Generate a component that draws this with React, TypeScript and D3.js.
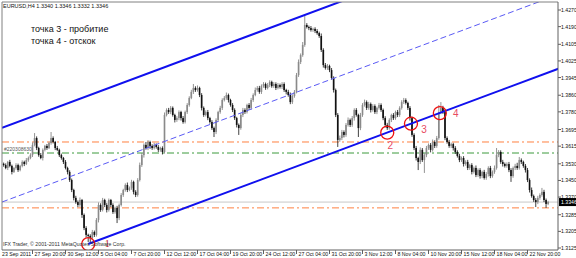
import React from 'react';
import * as d3 from 'd3';

// ---------- data ----------
const symbolTitle = 'EURUSD,H4  1.3340 1.3346 1.3332 1.3346';
const noteLines = ['точка 3 - пробитие', 'точка 4 - отскок'];
const copyright = 'IFX Trader, © 2001-2011 MetaQuotes Software Corp.';
const objectLabel = '#220308630';

const firstBar = -14;
const firstOpen = 13530; // pips (price * 10000)
const closes = [
  13524,13510,13539,13520,13491,13510,13524,13500,13520,13539,13529,13548,13558,13572,
  13621,13654,13606,13572,13558,13597,13616,13606,13630,13654,
  13635,13606,13597,13572,13558,13539,13510,13491,13452,13404,
  13366,13346,13332,13356,13284,13221,13188,13183,13173,13202,
  13188,13260,13332,13308,13356,13332,13308,13356,13332,13298,
  13318,13269,13332,13380,13404,13428,13404,13414,13443,13395,
  13380,13452,13524,13572,13621,13606,13635,13616,13606,13621,
  13611,13597,13606,13587,13765,13789,13779,13799,13765,13741,
  13750,13779,13750,13731,13779,13813,13847,13876,13895,13885,
  13895,13861,13799,13765,13779,13750,13731,13702,13683,13741,
  13779,13799,13837,13847,13861,13837,13813,13789,13750,13717,
  13702,13765,13789,13779,13813,13799,13837,13861,13885,13895,
  13876,13904,13914,13895,13909,13924,13904,13914,13895,13909,
  13900,13914,13885,13876,13861,13827,13856,13876,13957,14020,
  14053,14102,14198,14188,14183,14174,14179,14169,14159,14145,
  14078,14005,13991,14001,13981,13943,13885,13765,13645,13654,
  13683,13669,13717,13741,13717,13750,13789,13765,13702,13765,
  13813,13827,13799,13818,13789,13808,13779,13799,13813,13789,
  13750,13717,13702,13741,13765,13750,13779,13765,13799,13827,
  13837,13823,13799,13750,13669,13606,13558,13539,13597,13548,
  13572,13606,13621,13597,13635,13616,13654,13779,13799,13779,
  13654,13635,13616,13625,13606,13587,13568,13548,13558,13529,
  13539,13510,13524,13491,13510,13476,13500,13471,13491,13462,
  13481,13510,13471,13491,13510,13572,13587,13539,13529,13520,
  13529,13500,13471,13510,13520,13510,13548,13539,13520,13500,
  13452,13404,13375,13356,13346,13366,13380,13395,13356,13337,13346,
];
const upWick = [
  6,8,5,10,6,4,9,7,5,8,6,10,7,9,
  12,24,8,6,10,7,5,9,6,29,
  8,5,10,6,7,5,9,6,8,7,
  6,10,8,12,5,7,9,6,8,10,
  7,9,12,8,10,6,9,7,5,8,
  6,10,7,9,6,8,12,7,10,6,
  8,9,12,10,7,14,9,6,8,10,
  7,9,6,8,12,8,10,9,7,6,
  9,8,6,10,7,9,8,10,19,8,
  12,6,9,7,8,10,6,9,7,8,
  6,10,8,9,12,7,6,9,8,6,
  7,9,10,8,6,9,10,8,12,9,
  10,8,9,7,10,8,6,9,8,10,
  7,9,8,6,10,12,8,9,10,12,
  8,14,48,9,7,10,6,8,9,7,
  12,8,10,9,6,10,8,7,9,12,
  10,8,9,12,7,10,8,9,6,10,
  9,12,8,10,7,9,8,6,10,8,
  7,9,10,8,6,9,7,10,8,9,
  10,8,6,9,7,8,10,6,12,9,
  8,10,7,9,12,8,10,34,28,10,
  9,8,10,7,6,9,8,10,7,9,
  8,10,6,9,7,12,8,9,6,10,
  9,8,10,7,12,34,9,8,10,7,
  8,10,9,7,10,15,15,8,6,9,
  10,8,12,7,9,10,8,19,10,7,6,
];
const dnWick = [
  8,6,10,7,12,5,8,9,6,7,10,5,8,6,
  9,7,10,8,6,12,7,9,5,8,
  7,10,6,9,8,10,7,12,9,10,
  12,8,10,9,14,10,12,29,23,9,
  10,8,12,9,7,10,12,8,10,9,
  8,24,10,7,9,8,10,6,9,12,
  10,8,7,9,12,8,10,14,9,7,
  8,10,9,12,8,7,9,10,8,12,
  9,10,12,8,7,9,8,6,10,9,
  8,10,12,9,7,10,8,9,24,10,
  9,8,10,7,9,12,8,10,9,12,
  33,8,10,9,7,10,8,9,6,8,
  9,10,8,9,7,10,8,9,10,7,
  8,10,9,12,8,10,9,8,7,9,
  10,8,9,7,10,8,9,10,8,9,
  10,12,8,9,10,8,12,10,34,9,
  10,12,9,8,10,9,12,8,43,10,
  9,8,10,9,12,8,9,10,8,9,
  10,12,9,8,10,9,8,10,9,8,
  9,8,10,12,9,10,12,39,10,9,
  62,10,9,12,8,10,9,8,10,9,
  10,8,9,10,12,9,8,10,9,12,
  8,10,9,12,8,10,9,12,10,8,
  9,12,10,8,9,8,10,9,12,8,
  9,10,28,8,10,9,8,10,9,12,
  10,12,8,9,24,10,9,8,10,19,6,
];

const timeLabels = [
  '23 Sep 2011', '27 Sep 20:00', '30 Sep 12:00', '5 Oct 04:00', '7 Oct 20:00',
  '12 Oct 12:00', '17 Oct 04:00', '19 Oct 20:00', '24 Oct 12:00', '27 Oct 04:00',
  '31 Oct 20:00', '3 Nov 12:00', '8 Nov 04:00', '10 Nov 20:00', '15 Nov 12:00',
  '18 Nov 04:00', '22 Nov 20:00',
];
const timeLabelBars = [-14, 0, 16, 32, 48, 64, 80, 96, 112, 128, 144, 160, 176, 192, 208, 224, 240];

const priceTicks = [
  1.4270, 1.4190, 1.4105, 1.4025, 1.3945, 1.3860, 1.3780, 1.3695,
  1.3615, 1.3530, 1.3450, 1.3370, 1.3285, 1.3205, 1.3125,
];
const lastPrice = 1.3346;

// horizontal levels
const orangeLevels = [1.3635, 1.3318];
const greenLevels = [1.3582];

// channel: base line through two points, parallel through the peak
const channelBaseBars = [27, 250];
const channelBasePrices = [1.3144, 1.3969];
const channelPeakBar = 132;
const channelPeakPrice = 1.4246;

// marked points
const markBars = [27, 172, 183.5, 197.5];
const markPrices = [1.3144, 1.3680, 1.3723, 1.3774];
const markLabels = ['1', '2', '3', '4'];

// ---------- layout ----------
const W = 576, H = 258;
const L = 2, R = 558, T = 2, B = 250;

export default function App() {
  const x = d3.scaleLinear().domain([0, 240]).range([32.5, 527.5]);
  const y = d3.scaleLinear().domain([1.3125, 1.4270]).range([248, 10]);
  const bw = x(1) - x(0);

  const bars = closes.map((c, k) => {
    const o = k === 0 ? firstOpen : closes[k - 1];
    const hi = Math.max(o, c) + upWick[k];
    const lo = Math.min(o, c) - dnWick[k];
    return { i: firstBar + k, o: o / 1e4, c: c / 1e4, h: hi / 1e4, l: lo / 1e4 };
  });

  const slope = (channelBasePrices[1] - channelBasePrices[0]) / (channelBaseBars[1] - channelBaseBars[0]);
  const baseAt = (i: number) => channelBasePrices[0] + slope * (i - channelBaseBars[0]);
  const offset = channelPeakPrice - baseAt(channelPeakBar);
  const upperAt = (i: number) => baseAt(i) + offset;
  const midAt = (i: number) => baseAt(i) + offset / 2;
  const leftBar = x.invert(L);
  const rightBar = x.invert(R + 20);

  const line = d3.line<[number, number]>().x(d => x(d[0])).y(d => y(d[1]));

  const smallFont = 'Liberation Sans, Arial, sans-serif';

  return (
    <svg width={W} height={H} style={{ position: 'absolute', left: 0, top: 0, background: '#fff' }}
      xmlns="http://www.w3.org/2000/svg">
      <defs>
        <clipPath id="plot"><rect x={L} y={T} width={R - L} height={B - T} /></clipPath>
      </defs>
      <rect x={0} y={0} width={W} height={H} fill="#fff" />

      <g clipPath="url(#plot)">
        {/* horizontal levels */}
        <line x1={L} x2={R} y1={y(lastPrice)} y2={y(lastPrice)} stroke="#c8c8c8" strokeWidth={1} />
        {orangeLevels.map((p, k) => (
          <line key={'o' + k} x1={L} x2={R} y1={y(p)} y2={y(p)} stroke="#ff8040" strokeWidth={1}
            strokeDasharray="7 3 2 3" />
        ))}
        {greenLevels.map((p, k) => (
          <line key={'g' + k} x1={L} x2={R} y1={y(p)} y2={y(p)} stroke="#3c9a3c" strokeWidth={1}
            strokeDasharray="7 3 2 3" />
        ))}

        {/* candles */}
        {bars.map(b => {
          const cx = x(b.i);
          const bull = b.c >= b.o;
          const top = y(Math.max(b.o, b.c));
          const bot = y(Math.min(b.o, b.c));
          return (
            <g key={b.i}>
              <line x1={cx} x2={cx} y1={y(b.h)} y2={y(b.l)} stroke={bull ? '#777' : '#111'} strokeWidth={0.8} />
              <rect x={cx - bw * 0.4} width={bw * 0.8} y={top} height={Math.max(1, bot - top)}
                fill={bull ? '#8a8a8a' : '#111'} />
            </g>
          );
        })}

        {/* channel */}
        <path d={line([[leftBar, upperAt(leftBar)], [rightBar, upperAt(rightBar)]]) || ''}
          stroke="#1010ee" strokeWidth={2} fill="none" />
        <path d={line([[leftBar, midAt(leftBar)], [rightBar, midAt(rightBar)]]) || ''}
          stroke="#5a5af5" strokeWidth={1} fill="none" strokeDasharray="6 3" />
        <path d={line([[channelBaseBars[0], baseAt(channelBaseBars[0])], [rightBar, baseAt(rightBar)]]) || ''}
          stroke="#1010ee" strokeWidth={2} fill="none" />

        {/* marks */}
        {markBars.map((b, k) => (
          <circle key={'c' + k} cx={x(b)} cy={y(markPrices[k])} r={6.5} fill="none" stroke="#ee1111" strokeWidth={1.3} />
        ))}
      </g>

      {/* mark labels */}
      {markBars.map((b, k) => {
        const dx = [19, 3, 13, 16][k];
        const dy = [3, 16, 9, 4][k];
        return (
          <text key={'ml' + k} x={x(b) + dx} y={y(markPrices[k]) + dy} fontSize={10}
            fontFamily={k === 0 ? 'Liberation Serif, serif' : smallFont}
            fill={k === 0 ? '#c02020' : '#e84a5f'} textAnchor="middle">{markLabels[k]}</text>
        );
      })}

      {/* frame */}
      <line x1={L} x2={R} y1={T} y2={T} stroke="#808080" strokeWidth={1} />
      <line x1={L} x2={L} y1={T} y2={B} stroke="#808080" strokeWidth={1} />
      <line x1={R} x2={R} y1={T} y2={B} stroke="#606060" strokeWidth={1} />
      <line x1={L} x2={R} y1={B} y2={B} stroke="#606060" strokeWidth={1} />

      {/* price axis */}
      {priceTicks.map(p => (
        <g key={p}>
          <line x1={R} x2={R + 3} y1={y(p)} y2={y(p)} stroke="#606060" />
          <text x={R + 3} y={y(p) + 2} fontSize={5.2} fontFamily={smallFont} fill="#111">{p.toFixed(4)}</text>
        </g>
      ))}
      <rect x={R + 1} y={y(lastPrice) - 4} width={W - R - 1} height={8} fill="#000" />
      <text x={R + 3} y={y(lastPrice) + 2} fontSize={5.2} fontFamily={smallFont} fill="#fff">{lastPrice.toFixed(4)}</text>

      {/* time axis */}
      {timeLabels.map((t, k) => {
        const bx = x(timeLabelBars[k]);
        const isFirst = k === 0;
        return (
          <g key={t}>
            {!isFirst && <line x1={bx} x2={bx} y1={B} y2={B + 4} stroke="#606060" />}
            <text x={isFirst ? L : bx + 2} y={256} fontSize={5.2} fontFamily={smallFont} fill="#111">{t}</text>
          </g>
        );
      })}

      {/* texts */}
      <text x={3} y={8} fontSize={5.5} fontFamily={smallFont} fill="#111">{symbolTitle}</text>
      {noteLines.map((t, k) => (
        <text key={t} x={31} y={32 + k * 12} fontSize={9} fontFamily={smallFont} fill="#111">{t}</text>
      ))}
      <text x={4} y={y(greenLevels[0]) - 2} fontSize={5} fontFamily={smallFont} fill="#555">{objectLabel}</text>
      <text x={3} y={246} fontSize={5.2} fontFamily={smallFont} fill="#333">{copyright}</text>
    </svg>
  );
}
